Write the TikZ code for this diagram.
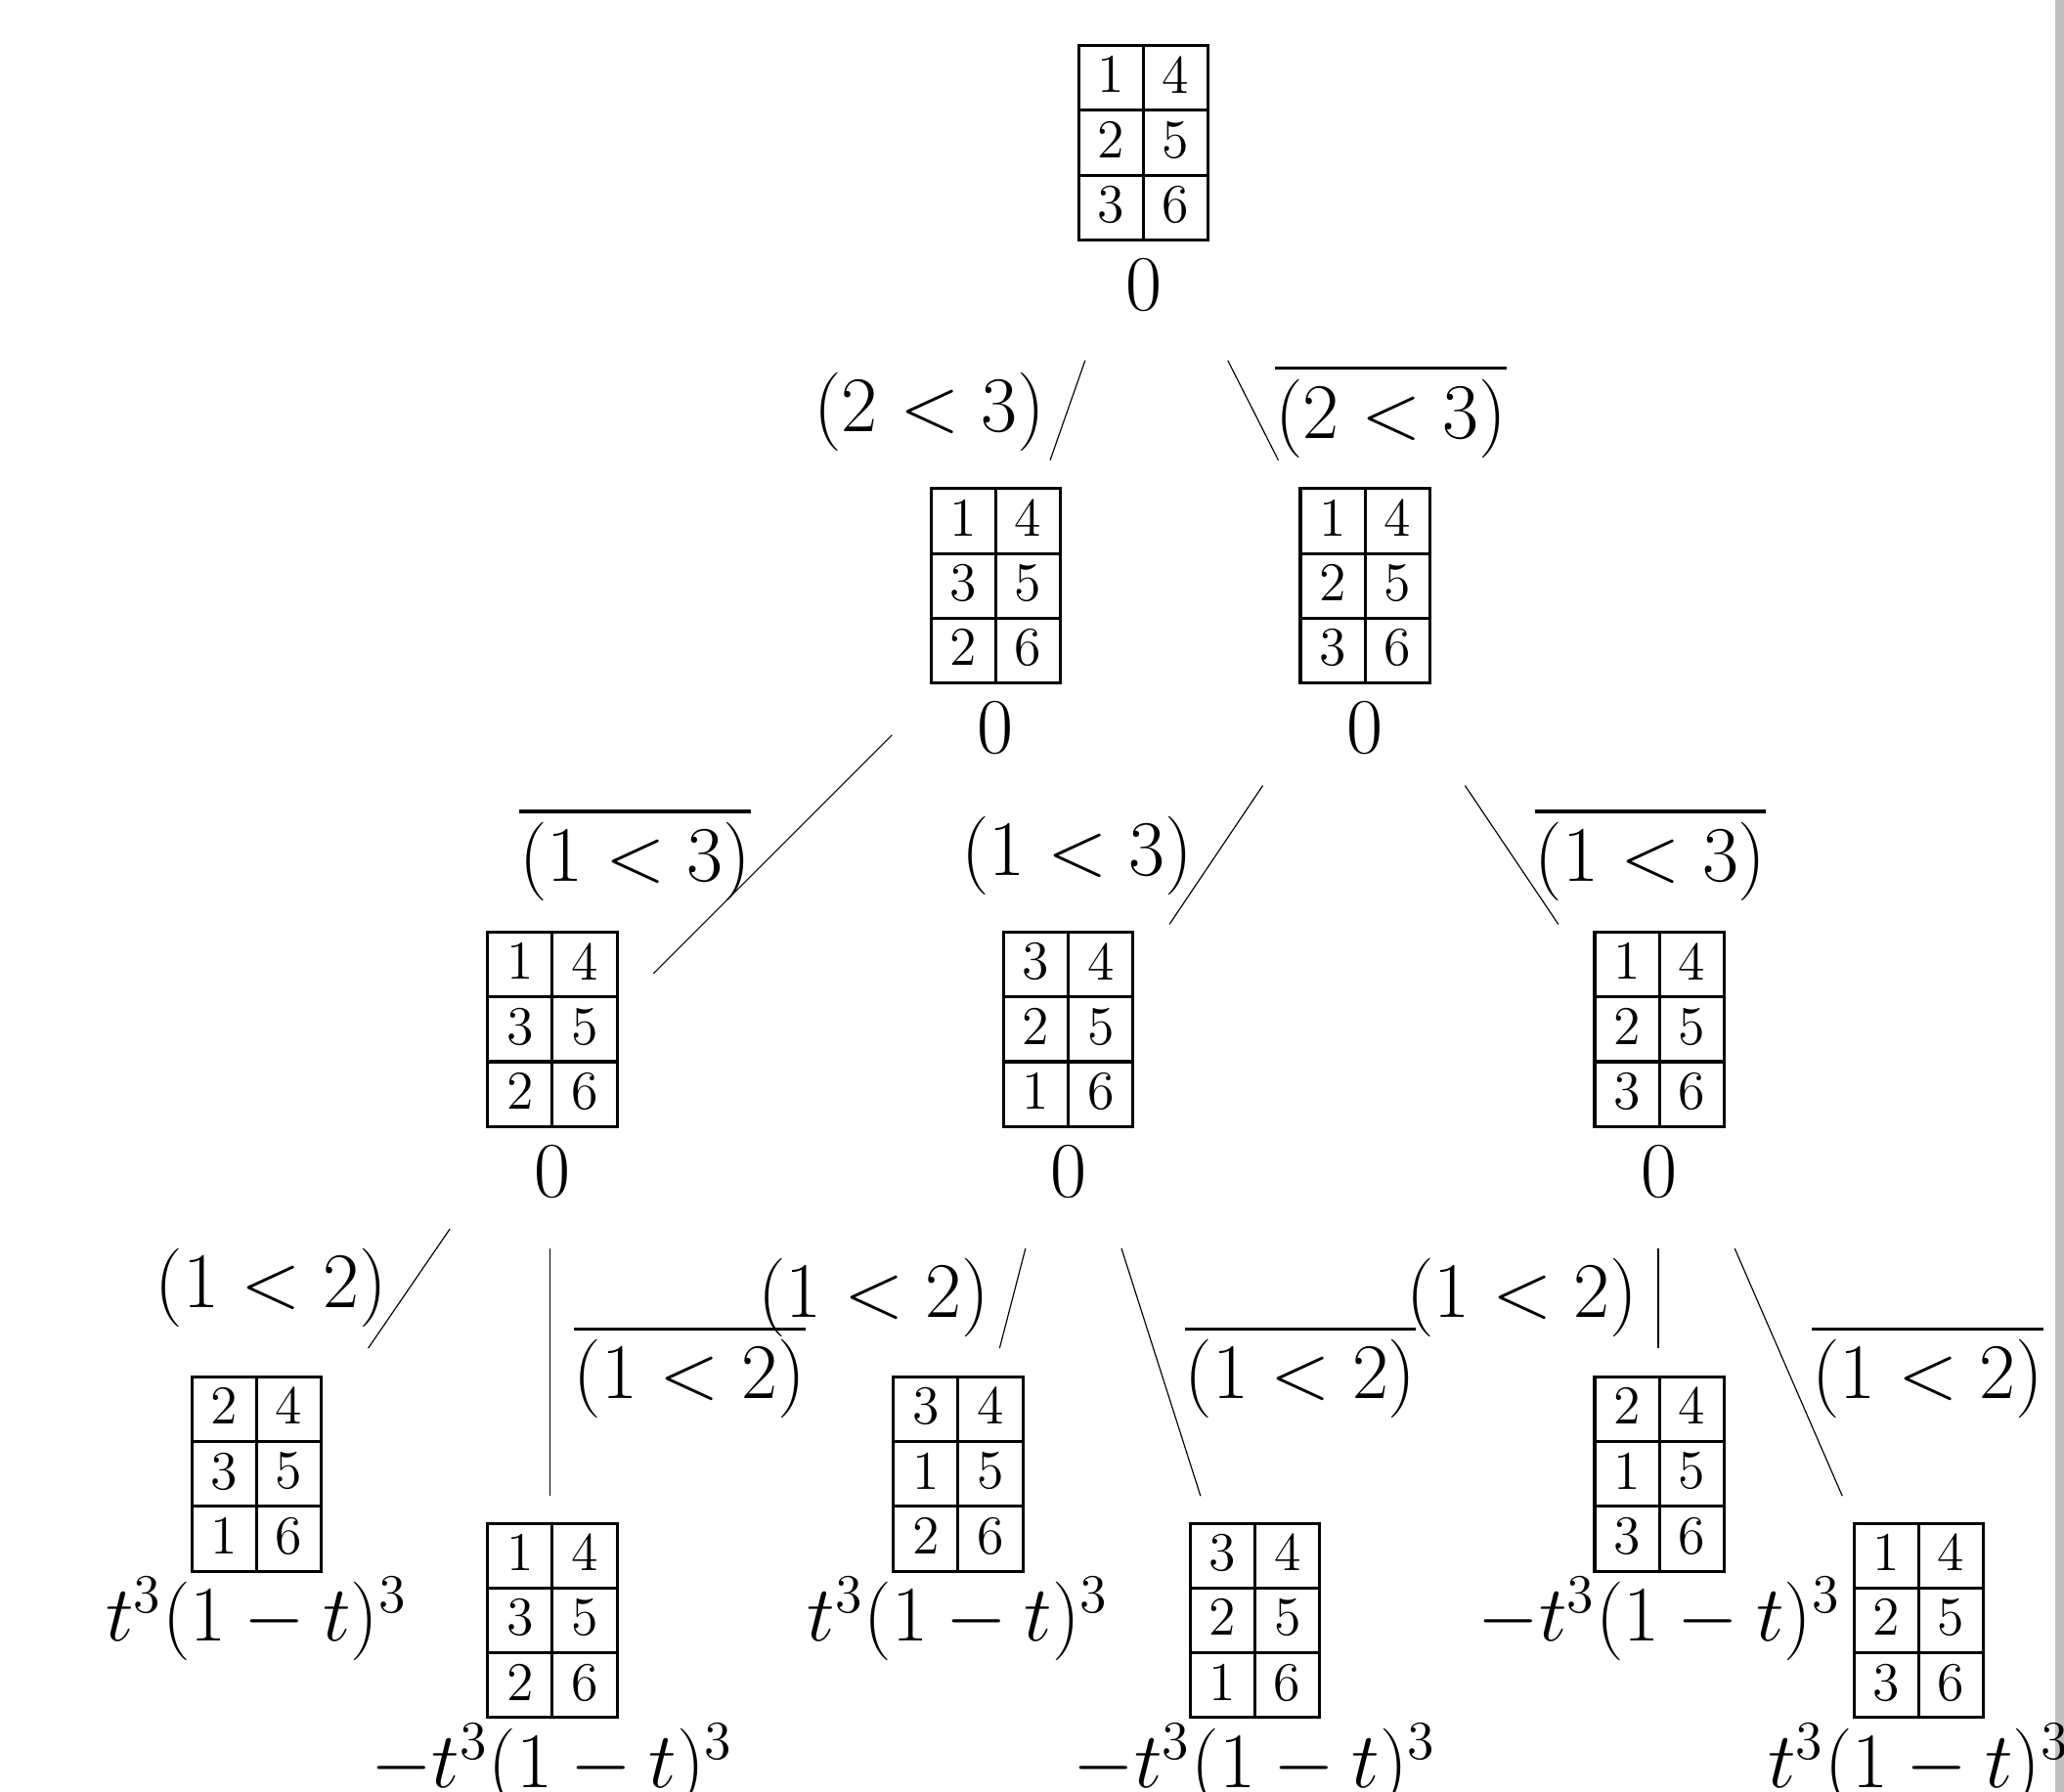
\documentclass[tikz,border=0pt]{standalone}
\usepackage{tikz}
\usepackage{amsmath}

\definecolor{edgegray}{RGB}{192,192,192}

% one cell of a tableau, 0.5cm square
\newcommand{\cellbox}[1]{\hbox to 0.5cm{\hss\vbox to 0.5cm{\vss\hbox{\rule[-1.4pt]{0pt}{1.4pt}#1}\vss}\hss}}
% a 3x2 tableau, row by row
\newcommand{\ytab}[6]{\vbox{\offinterlineskip
  \hbox{\cellbox{#1}\cellbox{#2}}
  \hbox{\cellbox{#3}\cellbox{#4}}
  \hbox{\cellbox{#5}\cellbox{#6}}}}

\begin{document}
\begin{tikzpicture}[
  tableau/.style={draw,line width=0.65pt,inner sep=0pt,font=\large,
    path picture={
      \draw[line width=0.65pt] (path picture bounding box.north) -- (path picture bounding box.south);
      \draw[line width=0.65pt] ([yshift=-0.5cm]path picture bounding box.north west) -- ([yshift=-0.5cm]path picture bounding box.north east);
      \draw[line width=0.65pt] ([yshift=0.5cm]path picture bounding box.south west) -- ([yshift=0.5cm]path picture bounding box.south east);
    }},
  lab/.style={font=\LARGE,inner sep=0pt,anchor=base},
  br/.style={line width=0.25pt}]
\useasboundingbox (0,0) rectangle (15.92,-13.82);
\fill[edgegray] (15.85,0) rectangle (15.92,-13.82);

% level 0
\node[tableau] (t0) at (8.82,-1.10) {\ytab{1}{4}{2}{5}{3}{6}};
\node[lab] (v0) at ([yshift=-0.53cm]t0.south) {$0$};

% level 1
\node[tableau] (t1) at (7.68,-4.52) {\ytab{1}{4}{3}{5}{2}{6}};
\node[lab] (v1) at ([yshift=-0.53cm]t1.south) {$0$};
\node[tableau] (t2) at (10.53,-4.52) {\ytab{1}{4}{2}{5}{3}{6}};
\node[lab] (v2) at ([yshift=-0.53cm]t2.south) {$0$};

% level 2
\node[tableau] (t3) at (4.26,-7.94) {\ytab{1}{4}{3}{5}{2}{6}};
\node[lab] (v3) at ([yshift=-0.53cm]t3.south) {$0$};
\node[tableau] (t4) at (8.24,-7.94) {\ytab{3}{4}{2}{5}{1}{6}};
\node[lab] (v4) at ([yshift=-0.53cm]t4.south) {$0$};
\node[tableau] (t5) at (12.80,-7.94) {\ytab{1}{4}{2}{5}{3}{6}};
\node[lab] (v5) at ([yshift=-0.53cm]t5.south) {$0$};

% level 3
\node[tableau] (t6) at (1.98,-11.37) {\ytab{2}{4}{3}{5}{1}{6}};
\node[lab] (v6) at ([yshift=-0.53cm]t6.south) {$t^3(1-t)^3$};
\node[tableau] (t7) at (4.26,-12.50) {\ytab{1}{4}{3}{5}{2}{6}};
\node[lab] (v7) at ([yshift=-0.53cm]t7.south) {$-t^3(1-t)^3$};
\node[tableau] (t8) at (7.39,-11.37) {\ytab{3}{4}{1}{5}{2}{6}};
\node[lab] (v8) at ([yshift=-0.53cm]t8.south) {$t^3(1-t)^3$};
\node[tableau] (t9) at (9.68,-12.50) {\ytab{3}{4}{2}{5}{1}{6}};
\node[lab] (v9) at ([yshift=-0.53cm]t9.south) {$-t^3(1-t)^3$};
\node[tableau] (t10) at (12.80,-11.37) {\ytab{2}{4}{1}{5}{3}{6}};
\node[lab] (v10) at ([yshift=-0.53cm]t10.south) {$-t^3(1-t)^3$};
\node[tableau] (t11) at (14.80,-12.50) {\ytab{1}{4}{2}{5}{3}{6}};
\node[lab] (v11) at ([yshift=-0.53cm]t11.south) {$t^3(1-t)^3$};

% branch labels
\node[lab] (la) at (7.17,-3.33) {$(2<3)$};
\node[lab] (lb) at (10.73,-3.38) {$\overline{(2<3)}$};
\node[lab] (lc) at (4.90,-6.80) {$\overline{(1<3)}$};
\node[lab] (ld) at (8.31,-6.75) {$(1<3)$};
\node[lab] (le) at (12.73,-6.80) {$\overline{(1<3)}$};
\node[lab] (lf) at (2.09,-10.09) {$(1<2)$};
\node[lab] (lg) at (5.32,-10.79) {$\overline{(1<2)}$};
\node[lab] (lh) at (6.74,-10.16) {$(1<2)$};
\node[lab] (li) at (10.03,-10.79) {$\overline{(1<2)}$};
\node[lab] (lj) at (11.74,-10.16) {$(1<2)$};
\node[lab] (lk) at (14.87,-10.79) {$\overline{(1<2)}$};

% branch ends
\coordinate (e1a) at (8.37,-2.78);  \coordinate (e1b) at (8.10,-3.55);
\coordinate (e2a) at (9.47,-2.78);  \coordinate (e2b) at (9.86,-3.55);
\coordinate (e3a) at (6.88,-5.67);  \coordinate (e3b) at (5.04,-7.51);
\coordinate (e4a) at (9.74,-6.06);  \coordinate (e4b) at (9.02,-7.13);
\coordinate (e5a) at (11.30,-6.06); \coordinate (e5b) at (12.02,-7.13);
\coordinate (e6a) at (3.47,-9.48);  \coordinate (e6b) at (2.84,-10.40);
\coordinate (e7a) at (4.24,-9.63);  \coordinate (e7b) at (4.24,-11.54);
\coordinate (e8a) at (7.91,-9.63);  \coordinate (e8b) at (7.71,-10.40);
\coordinate (e9a) at (8.65,-9.63);  \coordinate (e9b) at (9.26,-11.54);
\coordinate (e10a) at (12.79,-9.63); \coordinate (e10b) at (12.79,-10.40);
\coordinate (e11a) at (13.38,-9.63); \coordinate (e11b) at (14.21,-11.54);

\draw[br] (e1a) -- (e1b);
\draw[br] (e2a) -- (e2b);
\draw[br] (e3a) -- (e3b);
\draw[br] (e4a) -- (e4b);
\draw[br] (e5a) -- (e5b);
\draw[br] (e6a) -- (e6b);
\draw[br] (e7a) -- (e7b);
\draw[br] (e8a) -- (e8b);
\draw[br] (e9a) -- (e9b);
\draw[br] (e10a) -- (e10b);
\draw[br] (e11a) -- (e11b);
\end{tikzpicture}
\end{document}
